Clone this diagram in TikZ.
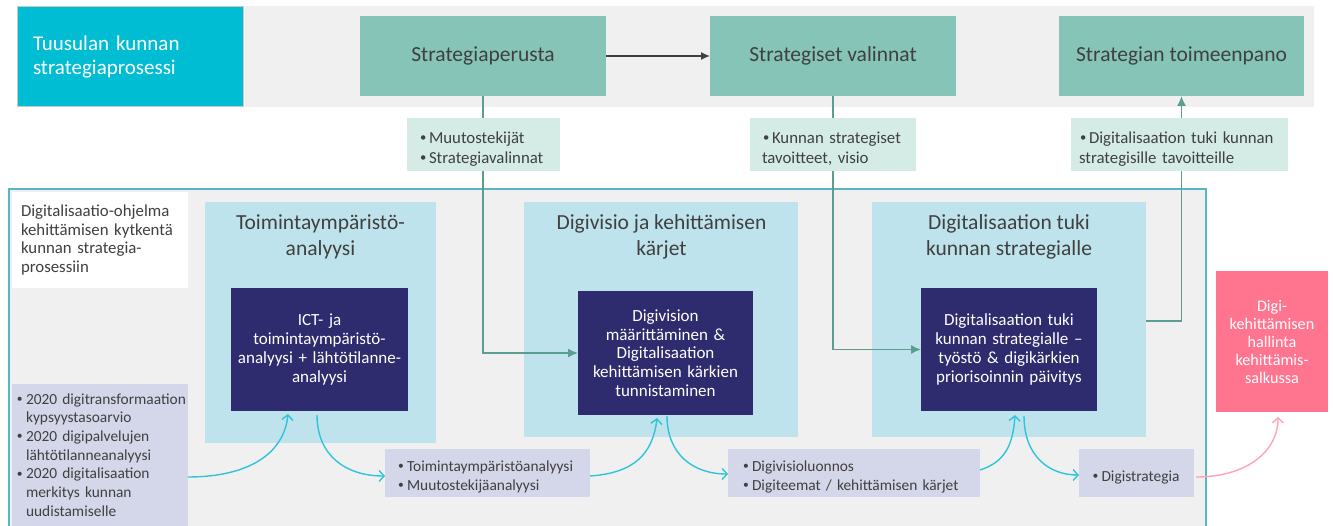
\documentclass[tikz,border=0pt]{standalone}
\usepackage{fontspec}
\usepackage{graphicx}
\setmainfont{Carlito}
\usetikzlibrary{arrows.meta,calc}
\definecolor{bandgrey}{HTML}{F0F0F0}
\definecolor{titlecyan}{HTML}{00BDD3}
\definecolor{tealbox}{HTML}{85C4B6}
\definecolor{mint}{HTML}{D5ECE6}
\definecolor{lightblue}{HTML}{BEE3EC}
\definecolor{navy}{HTML}{2E2B6E}
\definecolor{lavender}{HTML}{D4D6E9}
\definecolor{pinkbox}{HTML}{FF7590}
\definecolor{framecol}{HTML}{5BB5C0}
\definecolor{tealline}{HTML}{5A9E92}
\definecolor{cyanline}{HTML}{2EC4DA}
\definecolor{pinkline}{HTML}{FFA3B6}
\definecolor{txt}{HTML}{404040}
\hyphenpenalty=10000
\exhyphenpenalty=10000
\newcommand{\bitem}[1]{\par\hangindent=10pt\hangafter=1\noindent\makebox[10pt][l]{\hspace{1pt}\raisebox{0.12em}{\scalebox{0.75}{\textbullet}}}#1}
\begin{document}
\begin{tikzpicture}[x=1pt,y=-1pt,
  box/.style={rectangle,inner sep=0pt,outer sep=0pt},
  sz/.style 2 args={minimum width=#1pt,minimum height=#2pt},
  tealhead/.style={box,fill=tealbox,text=txt,font=\fontsize{21.5}{26}\selectfont},
  mintbox/.style={box,fill=mint,text=txt,align=left,font=\fontsize{16.8}{20.5}\selectfont},
  phase/.style={box,fill=lightblue},
  phasetitle/.style={text=txt,align=center,font=\fontsize{21.5}{26}\selectfont,inner sep=0pt},
  darkbox/.style={box,fill=navy,text=white,align=center,font=\fontsize{17}{18.7}\selectfont},
  lavbox/.style={box,fill=lavender,text=txt,align=left,font=\fontsize{15.4}{18.7}\selectfont},
  conn/.style={draw=tealline,line width=1.5pt,-{Latex[length=10pt,width=9pt]}},
  flow/.style={draw=cyanline,line width=1.4pt,-{Straight Barb[length=5pt,width=11pt,line width=1.4pt]}},
  pinkflow/.style={draw=pinkline,line width=1.4pt,-{Straight Barb[length=5pt,width=11pt,line width=1.4pt]}},
]
\useasboundingbox (0,0) rectangle (1333,526);
\fill[white] (0,0) rectangle (1333,526);
% top band
\node[box,fill=bandgrey,sz={1069}{101}] (band) at (779.5,56.5) {};
\node[box,fill=titlecyan,draw=black!22,line width=1pt,sz={226}{100},text width=194pt,align=left,font=\fontsize{21}{23.5}\selectfont,text=white] (title) at (130,57) {Tuusulan kunnan\\strategiaprosessi};
\node[tealhead,sz={246}{80}] (sp) at (483,56) {Strategiaperusta};
\node[tealhead,sz={246}{80}] (sv) at (833,56) {Strategiset valinnat};
\node[tealhead,sz={245}{80}] (st) at (1181.5,56) {Strategian toimeenpano};
% frame
\node[box,draw=framecol,line width=2pt,fill=bandgrey,sz={1197}{341}] (frame) at (607.5,359.5) {};
\node[box,fill=white,sz={176}{96},text width=158pt,align=left,font=\fontsize{16.8}{18.7}\selectfont,text=txt] (intro) at (100,240) {Digitalisaatio-ohjelma\\kehittämisen kytkentä\\kunnan strategia-\\prosessiin};
% phases
\node[phase,sz={231}{241}] (lightA) at (320.5,322.5) {};
\node[phase,sz={274}{235}] (lightB) at (661,319.5) {};
\node[phase,sz={274}{235}] (lightC) at (1009,319.5) {};
\node[phasetitle] (tA) at (320.5,237) {Toimintaympäristö-\\analyysi};
\node[phasetitle] (tB) at (661.5,237) {Digivisio ja kehittämisen\\kärjet};
\node[phasetitle] (tC) at (1009,237) {Digitalisaation tuki\\kunnan strategialle};
% connectors
\draw[draw=txt,line width=1.3pt,-{Latex[length=9pt,width=8pt]}] (sp.east) -- (sv.west);
\node[darkbox,sz={175}{124},text width=165pt] (darkB) at (665.5,353) {Digivision\\määrittäminen \&\\Digitalisaation\\kehittämisen kärkien\\tunnistaminen};
\node[darkbox,sz={176}{123},text width=166pt] (darkC) at (1009,349.5) {Digitalisaation tuki\\kunnan strategialle –\\työstö \& digikärkien\\priorisoinnin päivitys};
\draw[conn] (sp.south) |- (darkB.west);
\draw[conn] (sv.south) |- (darkC.west);
\draw[conn] ($(lightC.east)+(0,1.5)$) -| (st.south);
% mint boxes
\node[mintbox,sz={153}{53},text width=129pt] (mint1) at (483.5,144.5) {\bitem{Muutostekijät}\bitem{Strategiavalinnat}};
\node[mintbox,sz={166}{53},text width=142pt] (mint2) at (833,144.5) {\bitem{Kunnan strategiset\newline tavoitteet, visio}};
\node[mintbox,sz={217}{53},text width=201pt] (mint3) at (1179.5,144.5) {\bitem{Digitalisaation tuki kunnan\newline strategisille tavoitteille}};
% dark box A
\node[darkbox,sz={177}{123},text width=167pt] (darkA) at (319.5,349.5) {ICT- ja\\toimintaympäristö-\\analyysi + lähtötilanne-\\analyysi};
% lavender boxes
\node[lavbox,sz={176}{142},text width=168pt] (lav0) at (100,455) {\bitem{2020~digitransformaation\newline kypsyystasoarvio}\bitem{2020 digipalvelujen\newline lähtötilanneanalyysi}\bitem{2020 digitalisaation\newline merkitys kunnan\newline uudistamiselle}\par\vspace{8pt}};
\node[lavbox,sz={205}{48},text width=181pt] (lav1) at (487.5,473) {\bitem{Toimintaympäristöanalyysi}\bitem{Muutostekijäanalyysi}};
\node[lavbox,sz={252}{48},text width=224pt] (lav2) at (854,473) {\bitem{Digivisioluonnos}\bitem{Digiteemat / kehittämisen kärjet}};
\node[lavbox,sz={115}{48},text width=90pt] (lav3) at (1136.5,473) {\bitem{Digistrategia}};
% pink
\node[box,fill=pinkbox,sz={112}{141},text width=104pt,align=center,text=white,font=\fontsize{16.2}{18}\selectfont] (pink) at (1272,341.5) {Digi-\\kehittämisen\\hallinta\\kehittämis-\\salkussa};
% flow arrows
\draw[flow] ($(lav0.east)+(0,22)$) .. controls +(60,0) and +(-4,40) .. ($(darkA.south)+(-31.5,3)$);
\draw[flow] ($(darkA.south)+(-2.5,4)$) .. controls +(0,40) and +(-40,0) .. ($(lav1.west)+(0,3)$);
\draw[flow] ($(lav1.east)+(0,3)$) .. controls +(45,-3) and +(-4,35) .. ($(darkB.south)+(-8.5,3)$);
\draw[flow] ($(darkB.south)+(1.5,1)$) .. controls +(0,38) and +(-35,0) .. ($(lav2.west)+(0,1)$);
\draw[flow] ($(lav2.east)+(0,-3)$) .. controls +(25,-8) and +(-2,30) .. ($(darkC.south)+(6,4)$);
\draw[flow] ($(darkC.south)+(15,5)$) .. controls +(0,40) and +(-30,0) .. ($(lav3.west)+(0,2)$);
\draw[pinkflow] ($(lav3.east)+(2,4)$) .. controls +(50,0) and +(0,35) .. ($(pink.south)+(6,5)$);
\end{tikzpicture}
\end{document}
